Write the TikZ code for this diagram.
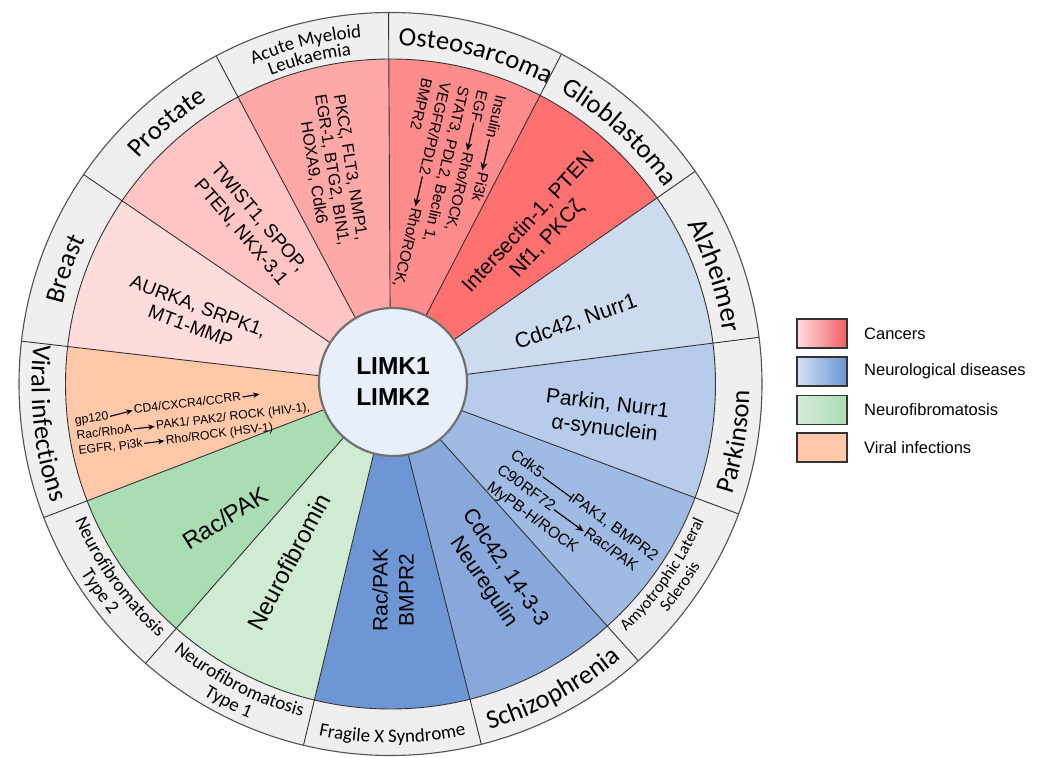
\documentclass[tikz,border=0pt]{standalone}
\usepackage{fontspec}
\setmainfont{Liberation Sans}
\newfontfamily\ringfont{Carlito}
\usetikzlibrary{arrows.meta,decorations.text,calc}
\newcommand\setfs[2]{\fontsize{#1}{#2}\selectfont}
\definecolor{cOst}{RGB}{255,140,140}
\definecolor{cGli}{RGB}{255,112,112}
\definecolor{cAlz}{RGB}{205,219,238}
\definecolor{cPar}{RGB}{183,204,235}
\definecolor{cAls}{RGB}{160,187,227}
\definecolor{cSch}{RGB}{136,168,220}
\definecolor{cFrx}{RGB}{110,150,212}
\definecolor{cNfa}{RGB}{207,235,210}
\definecolor{cNfb}{RGB}{170,222,178}
\definecolor{cVir}{RGB}{255,200,168}
\definecolor{cBre}{RGB}{255,220,220}
\definecolor{cPro}{RGB}{255,197,197}
\definecolor{cAml}{RGB}{255,168,168}
\definecolor{ringcol}{RGB}{239,239,239}
\definecolor{hubfill}{RGB}{232,239,251}
\definecolor{hubline}{RGB}{112,112,112}
\definecolor{edgecol}{RGB}{51,51,51}
\tikzset{
  sect/.style={align=center, inner sep=0pt},
  piece/.style={inner sep=0pt, outer sep=1.5pt, text height=0.72em, text depth=0pt, anchor=base west},
  arr/.style={-{Stealth[length=8pt,width=7pt]}, line width=1.2pt},
  sarr/.style={-{Stealth[length=6.5pt,width=5.5pt]}, line width=1.1pt},
  inh/.style={-{Bar[width=9pt,line width=1.2pt]}, line width=1.1pt},
  sepline/.style={draw=edgecol, line width=0.9pt},
  legbox/.style={draw=edgecol, line width=1.3pt, minimum width=50pt, minimum height=29pt, inner sep=0pt},
  legtext/.style={anchor=west, inner sep=0pt, font=\setfs{16.5pt}{18pt}},
  ringlab/.style n args={2}{decorate, decoration={text along path, text align=center, text={|\ringfont\setfs{#1}{#1}|#2}}}
}
\begin{document}
\begin{tikzpicture}[x=1pt,y=1pt]
\useasboundingbox (0,0) rectangle (1045,758);
\fill[white] (0,0) rectangle (1045,758);
\coordinate (C) at (390.5,374);
% sectors
\foreach \c [count=\i] in {cOst,cGli,cAlz,cPar,cAls,cSch,cFrx,cNfa,cNfb,cVir,cBre,cPro,cAml}{
  \pgfmathsetmacro\aa{90.3-(\i-1)*27.6923}
  \pgfmathsetmacro\bb{\aa-27.6923}
  \fill[fill=\c] (C) -- ($(C)+(\aa:325pt)$) arc[start angle=\aa, end angle=\bb, radius=325pt] -- cycle;
}
% ring
\fill[ringcol, even odd rule] (C) circle[radius=371.5pt] (C) circle[radius=325pt];
\foreach \k in {0,...,12}{
  \pgfmathsetmacro\ang{90.3-\k*27.6923}
  \draw[sepline] (C) -- ($(C)+(\ang:371.5pt)$);
}
\draw[sepline] (C) circle[radius=325pt];
\draw[draw=edgecol!85, line width=1.1pt] (C) circle[radius=371.5pt];
% hub
\node[circle, minimum size=148pt, inner sep=0pt, fill=hubfill, draw=hubline, line width=2.2pt, align=center, font=\bfseries\setfs{24.5pt}{31pt}] (hub) at (393,376) {LIMK1\\LIMK2};

% sector texts
\node[sect, rotate=-81, font=\setfs{16.5pt}{18.5pt}] (tAml) at (332,588) {PKCζ, FLT3, NMP1,\\EGR-1, BTG2, BIN1,\\HOXA9, Cdk6};
\begin{scope}[shift={(496.5,665.3)}, rotate=-103, transform shape, font=\setfs{15.3pt}{18pt}]
  \node[piece] (o1a) at (0,0) {Insulin};
  \node[piece] (o1b) at (79,0) {Pi3k};
  \node[piece] (o2a) at (0,-19) {EGF};
  \node[piece] (o2b) at (63,-19) {Rho/ROCK,};
  \node[piece] (o3) at (0,-38) {STAT3, PDL2, Beclin 1,};
  \node[piece] (o4a) at (0,-57) {VEGFR/PDL2};
  \node[piece] (o4b) at (129,-57) {Rho/ROCK,};
  \node[piece] (o5) at (0,-76) {BMPR2};
\end{scope}
\draw[arr] (o1a.east) -- (o1b.west);
\draw[arr] (o2a.east) -- (o2b.west);
\draw[arr] (o4a.east) -- (o4b.west);
\node[sect, rotate=47, font=\setfs{21pt}{25pt}] (tGli) at (538,527) {Intersectin-1, PTEN\\Nf1, PKCζ};
\node[sect, rotate=19.5, font=\setfs{21.5pt}{24pt}] (tAlz) at (576,436) {Cdc42, Nurr1};
\node[sect, rotate=-7, font=\setfs{21pt}{25pt}] (tPar) at (606,341) {Parkin, Nurr1\\α-synuclein};
\begin{scope}[shift={(508.4,301.7)}, rotate=-36, transform shape, font=\setfs{15.7pt}{18pt}]
  \node[piece] (a1a) at (0,0) {Cdk5};
  \node[piece] (a1b) at (76,0) {PAK1, BMPR2};
  \node[piece] (a2a) at (-2,-20) {C90RF72};
  \node[piece] (a2b) at (105,-20) {Rac/PAK};
  \node[piece] (a3) at (0,-40) {MyPB-H/ROCK};
\end{scope}
\draw[inh] (a1a.east) -- (a1b.west);
\draw[arr] (a2a.east) -- (a2b.west);
\node[sect, rotate=-56, font=\setfs{21.5pt}{26pt}] (tSch) at (494,183) {Cdc42, 14-3-3\\Neuregulin};
\node[sect, rotate=90, font=\setfs{21pt}{26pt}] (tFrx) at (393,168) {Rac/PAK\\BMPR2};
\node[sect, rotate=62.3, font=\setfs{24pt}{26pt}] (tNfa) at (289,196) {Neurofibromin};
\node[sect, rotate=32, font=\setfs{24pt}{26pt}] (tNfb) at (225,240) {Rac/PAK};
\begin{scope}[shift={(73.8,333.6)}, rotate=7, transform shape, font=\setfs{12.2pt}{15pt}]
  \node[piece] (v1a) at (0,0) {gp120};
  \node[piece] (v1b) at (60,3) {CD4/CXCR4/CCRR};
  \coordinate (v1c) at (188,7.4);
  \node[piece] (v2a) at (0,-15.5) {Rac/RhoA};
  \node[piece] (v2b) at (80,-15.5) {PAK1/ PAK2/ ROCK (HIV-1),};
  \node[piece] (v3a) at (0,-31) {EGFR, Pi3k};
  \node[piece] (v3b) at (88,-31) {Rho/ROCK (HSV-1)};
\end{scope}
\draw[sarr] (v1a.east) -- (v1b.west);
\draw[sarr] (v1b.east) -- (v1c);
\draw[sarr] (v2a.east) -- (v2b.west);
\draw[sarr] (v3a.east) -- (v3b.west);
\node[sect, rotate=-20.77, font=\setfs{19pt}{21.5pt}] (tBre) at (194.5,442) {AURKA, SRPK1,\\MT1-MMP};
\node[sect, rotate=-49.5, font=\setfs{19pt}{23pt}] (tPro) at (249.5,533) {TWIST1, SPOP,\\PTEN, NKX-3.1};

% ring labels
\begin{scope}[shift={(C)}]
\path[ringlab={26.5pt}{Osteosarcoma}] (95.5:338pt) arc[start angle=95.5,end angle=55.5,radius=338pt];
\path[ringlab={26.5pt}{Glioblastoma}] (67.7:338pt) arc[start angle=67.7,end angle=27.7,radius=338pt];
\path[ringlab={28pt}{Alzheimer}] (38.5:337pt) arc[start angle=38.5,end angle=-1.5,radius=337pt];
\path[ringlab={26.5pt}{Parkinson}] (-29.5:359pt) arc[start angle=-29.5,end angle=10.5,radius=359pt];
\path[ringlab={16.5pt}{Amyotrophic Lateral}] (-55:342pt) arc[start angle=-55,end angle=-15,radius=342pt];
\path[ringlab={16.5pt}{Sclerosis}] (-55:359pt) arc[start angle=-55,end angle=-15,radius=359pt];
\path[ringlab={26.5pt}{Schizophrenia}] (-82:359pt) arc[start angle=-82,end angle=-42,radius=359pt];
\path[ringlab={19pt}{Fragile X Syndrome}] (-109.7:359pt) arc[start angle=-109.7,end angle=-69.7,radius=359pt];
\path[ringlab={19pt}{Neurofibromatosis}] (-137:344pt) arc[start angle=-137,end angle=-97,radius=344pt];
\path[ringlab={19pt}{Type 1}] (-137:363pt) arc[start angle=-137,end angle=-97,radius=363pt];
\path[ringlab={19pt}{Neurofibromatosis}] (-164.5:344pt) arc[start angle=-164.5,end angle=-124.5,radius=344pt];
\path[ringlab={19pt}{Type 2}] (-164.5:363pt) arc[start angle=-164.5,end angle=-124.5,radius=363pt];
\path[ringlab={26.5pt}{Viral infections}] (166.5:359pt) arc[start angle=166.5,end angle=206.5,radius=359pt];
\path[ringlab={26.5pt}{Breast}] (180.5:338pt) arc[start angle=180.5,end angle=140.5,radius=338pt];
\path[ringlab={26.5pt}{Prostate}] (150.5:338pt) arc[start angle=150.5,end angle=110.5,radius=338pt];
\path[ringlab={19pt}{Acute Myeloid}] (124:348pt) arc[start angle=124,end angle=84,radius=348pt];
\path[ringlab={19pt}{Leukaemia}] (124:331pt) arc[start angle=124,end angle=84,radius=331pt];
\end{scope}

% legend
\node[legbox, left color={rgb,255:red,255;green,222;blue,222}, right color={rgb,255:red,240;green,95;blue,100}] (lb1) at (822,424.5) {};
\node[legbox, left color={rgb,255:red,212;green,226;blue,242}, right color={rgb,255:red,105;green,148;blue,210}] (lb2) at (822,386.5) {};
\node[legbox, left color={rgb,255:red,214;green,236;blue,214}, right color={rgb,255:red,172;green,220;blue,178}] (lb3) at (822,348) {};
\node[legbox, fill={rgb,255:red,255;green,200;blue,170}] (lb4) at (822,310.5) {};
\node[legtext] (lt1) at (864,424.5) {Cancers};
\node[legtext] (lt2) at (864,386.5) {Neurological diseases};
\node[legtext] (lt3) at (864,348) {Neurofibromatosis};
\node[legtext] (lt4) at (864,310.5) {Viral infections};
\end{tikzpicture}
\end{document}
